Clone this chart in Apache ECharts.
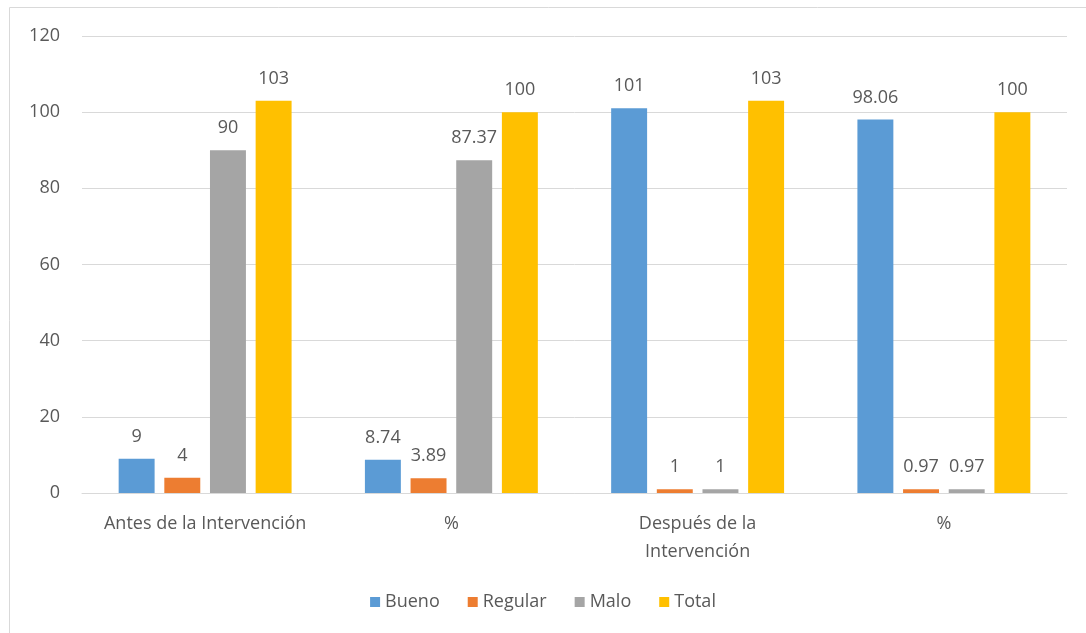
<!DOCTYPE html>
<html>
<head>
<meta charset="utf-8">
<script src="https://cdn.jsdelivr.net/npm/echarts@6/dist/echarts.min.js"></script>
<style>
html,body{margin:0;padding:0;background:#fff;}
#c{width:1086px;height:633px;}
</style>
</head>
<body>
<div id="c"></div>
<script>
var categories = ["Antes de la Intervención", "%", "Después de la\nIntervención", "%"];
var seriesNames = ["Bueno", "Regular", "Malo", "Total"];
var bueno = [9, 8.74, 101, 98.06];
var regular = [4, 3.89, 1, 0.97];
var malo = [90, 87.37, 1, 0.97];
var total = [103, 100, 103, 100];
var yTicks = [0, 20, 40, 60, 80, 100, 120];
var colors = ["#5B9BD5", "#ED7D31", "#A5A5A5", "#FFC000"];

var font = "Open Sans";
var textColor = "#595959";
var fs = 18;
var values = [bueno, regular, malo, total];

var chart = echarts.init(document.getElementById('c'));
chart.setOption({
  animation: false,
  textStyle: {fontFamily: font},
  graphic: [{
    type: 'rect', shape: {x: 9.5, y: 7.5, width: 1100, height: 700},
    style: {fill: 'none', stroke: '#d9d9d9', lineWidth: 1}, silent: true, z: -1
  }],
  grid: {left: 82, right: 19, top: 36, bottom: 140, containLabel: false},
  legend: {
    data: seriesNames, bottom: 17, left: 'center',
    icon: 'rect', itemWidth: 10, itemHeight: 10, itemGap: 28,
    textStyle: {color: textColor, fontSize: fs, fontFamily: font}
  },
  xAxis: {
    type: 'category', data: categories,
    axisLine: {lineStyle: {color: '#d9d9d9'}},
    axisTick: {show: false},
    axisLabel: {color: textColor, fontSize: fs, margin: 17, lineHeight: 28, interval: 0}
  },
  yAxis: {
    type: 'value', min: yTicks[0], max: yTicks[yTicks.length - 1], interval: 20,
    axisLine: {show: false}, axisTick: {show: false},
    splitLine: {lineStyle: {color: '#d9d9d9'}},
    axisLabel: {color: textColor, fontSize: fs, margin: 22}
  },
  series: seriesNames.map(function (n, i) {
    return {
      name: n, type: 'bar', data: values[i],
      barWidth: '14.6%', barGap: '27%',
      itemStyle: {color: colors[i]},
      label: {show: true, position: 'top', distance: 13, color: textColor, fontSize: fs, fontFamily: font}
    };
  })
});
</script>
</body>
</html>
